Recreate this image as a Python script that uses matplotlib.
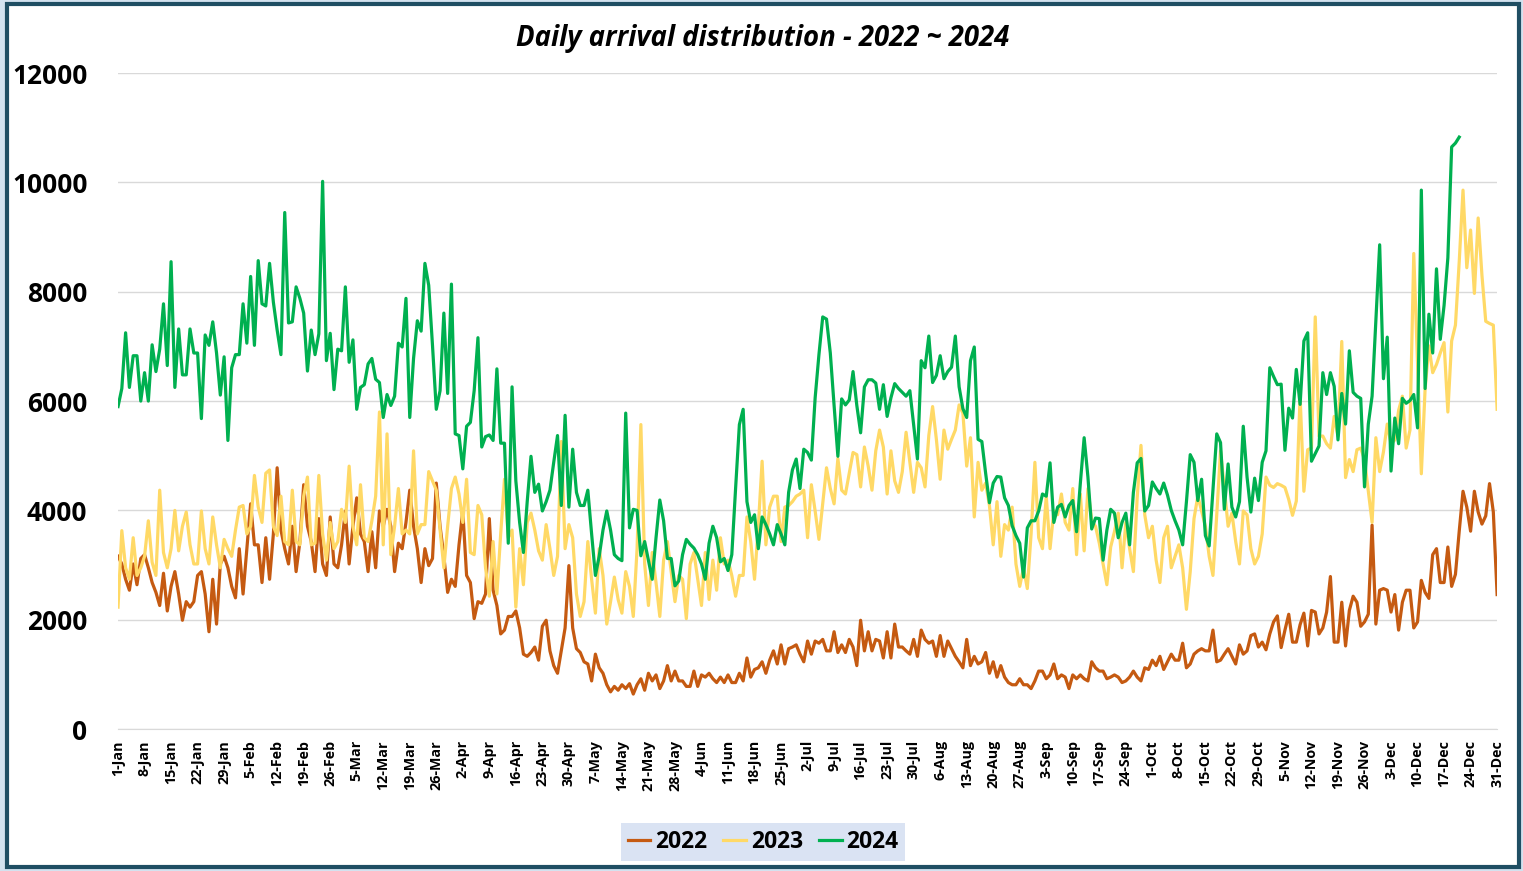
import numpy as np
import pandas as pd
import matplotlib
matplotlib.use('Agg')
import matplotlib.pyplot as plt
from matplotlib.patches import Rectangle

plt.rcParams['font.family'] = ['Open Sans', 'DejaVu Sans']

# daily arrivals (index 0 = 1-Jan)
arr_2022 = [
    3160, 3020, 2740, 2540, 3020, 2640, 3120, 3190, 2950, 2680,
    2500, 2260, 2850, 2160, 2610, 2880, 2470, 1990, 2330, 2230,
    2330, 2810, 2880, 2470, 1780, 2740, 1920, 3020, 3160, 2950,
    2610, 2400, 3300, 2470, 3300, 4120, 3370, 3370, 2680, 3500,
    2740, 3570, 4780, 3640, 3300, 3020, 3710, 2880, 3430, 4470,
    3710, 3430, 2880, 3850, 3020, 2810, 3880, 3020, 2950, 3370,
    3990, 3020,
    3710, 4230, 3570, 3430, 2880, 3610, 2950, 3990, 3710, 4020,
    3710, 2880, 3400, 3300, 3780, 4370, 3710, 3300, 2680, 3300,
    2990, 3120, 4500, 3710, 3160, 2500, 2740, 2610, 3370, 3990,
    2810, 2680, 2020, 2330, 2300, 2470, 3850, 2540, 2260, 1740,
    1810, 2060, 2060, 2160, 1850, 1370, 1330, 1400, 1500, 1260,
    1880, 1990, 1430, 1160, 1020, 1430, 1850, 2990,
    1850, 1470, 1400, 1230, 1190, 880, 1370, 1120, 1020, 810,
    680, 780, 710, 810, 740, 830, 640, 810, 920, 710,
    1020, 880, 990, 740, 880, 1160, 880, 1060, 880, 880,
    780, 780, 1060, 780, 990, 950, 1020, 920, 850, 950,
    850, 990, 850, 850, 1020, 880, 1300, 950, 1090, 1120,
    1230, 1020, 1260, 1430, 1190, 1540, 1190, 1470, 1500, 1540,
    1370, 1230, 1610, 1370, 1610, 1570, 1640, 1430, 1430, 1780,
    1400, 1540, 1400, 1640, 1500, 1160, 1990, 1430, 1780, 1430,
    1640, 1610, 1300, 1780, 1300, 1920, 1500, 1500, 1430, 1370,
    1640, 1330, 1810, 1640, 1570, 1610, 1330, 1710, 1330, 1610,
    1470, 1330, 1230, 1120, 1640, 1160, 1330, 1190, 1230, 1400,
    1020, 1230, 950, 1160, 950, 850, 810, 810, 920, 810,
    810,
    740, 880, 1060, 1060, 920, 990, 1190, 920, 990, 950,
    740, 990, 920, 990, 920, 880, 1230, 1120, 1060, 1060,
    920, 950, 990, 950, 850, 880, 950, 1060, 950, 880,
    1120, 1090, 1260, 1160, 1330, 1090, 1230, 1370, 1260, 1260,
    1570, 1120, 1190, 1370, 1430, 1470, 1430, 1430, 1810, 1230,
    1260, 1370, 1470, 1330, 1190, 1540, 1370, 1430, 1710, 1740,
    1500,
    1590, 1450, 1740, 1960, 2070, 1490, 1810, 2100, 1590, 1590,
    1910, 2120, 1520, 2170, 2140, 1740, 1850, 2140, 2790, 1590,
    1590, 2320, 1520, 2170, 2430, 2320, 1880, 1960, 2100, 3730,
    1920, 2540, 2570, 2540, 2140, 2460, 1810, 2320, 2540, 2540,
    1850, 1960, 2720, 2500, 2390, 3190, 3300, 2680, 2680, 3330,
    2610, 2830, 3620, 4350, 4060, 3620, 4350, 3970, 3750, 3900,
    4490, 3970, 2460,
]

arr_2023 = [
    2230, 3630, 2950, 2740, 3500, 2810, 2950, 3160, 3810, 3050,
    2810, 4370, 3230, 2950, 3300, 4000, 3260, 3710, 3970, 3370,
    3020, 3020, 3990, 3300, 3020, 3880, 3370, 2950, 3470, 3300,
    3160, 3640, 4060, 4090, 3570, 3710, 4640, 4060, 3780, 4680,
    4740, 3710, 3540, 4260, 3430, 3370, 4370, 3430, 3370, 4260,
    4610, 3370, 3400, 4640, 3570, 3090, 3780, 3300, 3430, 4020,
    3780, 4810,
    3710, 3370, 4470, 3500, 3430, 3810, 4260, 5800, 3370, 5400,
    3190, 3710, 4400, 3570, 3640, 3570, 5090, 3570, 3740, 3740,
    4710, 4540, 4370, 3640, 2950, 3710, 4400, 4610, 4300, 3780,
    4570, 3230, 3190, 4090, 3920, 2950, 2430, 3430, 2470, 3570,
    4570, 3500, 3640, 2230, 3300, 2640, 3780, 3950, 3640, 3260,
    3090, 3740, 3300, 2810, 3160, 5260, 3300, 3740,
    3500, 2470, 2060, 2330, 3430, 2740, 2120, 3300, 2810, 1920,
    2330, 2780, 2370, 2120, 2880, 2610, 2060, 3300, 5570, 3020,
    2260, 3230, 2680, 2060, 3090, 3430, 2880, 2330, 2810, 2740,
    2020, 3020, 3230, 2740, 2260, 3230, 2370, 3090, 2540, 3500,
    3020, 3090, 2810, 2430, 2810, 2810, 3880, 3430, 2740, 3710,
    4900, 3370, 4060, 4260, 4260, 3430, 4060, 4090, 4160, 4260,
    4300, 4370, 3500,
    4470, 3990, 3470, 4120, 4780, 4400, 4120,
    4950, 4370, 4300, 4680, 5060, 5020, 4430, 5160, 4810, 4370,
    5090, 5470, 5160, 4300, 5090, 4540, 4330, 4710, 5430, 4880,
    4330, 4880, 4780, 4430, 5370, 5900, 5300, 4570, 5470, 5120,
    5300, 5470, 5930, 5780, 4810, 5330, 3880, 4880, 4370, 4500,
    4090, 3370, 4160, 3160, 3740, 3640, 4060, 3020, 2610, 2950,
    2570, 3570,
    4880, 3500, 3300, 4260, 3300, 3990, 3920, 4300, 3780, 3640,
    4400, 3190, 4300, 3260, 4400, 3810, 3710, 3400, 3020, 2640,
    3330, 3610, 3950, 2950, 3780, 3300, 2880, 4230, 5190, 3920,
    3500, 3710, 3090, 2680, 3500, 3710, 2950, 3160, 3370, 2950,
    2190, 2880, 3850, 4260, 3990, 3710, 3160, 2810, 3920, 5090,
    4400, 3710, 3950, 3430, 3020, 3990, 3920, 3300, 3020, 3160,
    3570, 4610,
    4460, 4420, 4490, 4460, 4420, 4200, 3910, 4170, 6090, 4350,
    5110, 5140, 7540, 5360, 5360, 5220, 5140, 5720, 5360, 7090,
    4600, 4930, 4710, 5110, 5140, 4930, 4350, 3780, 5330, 4710,
    5070, 5580, 5220, 5290, 5830, 6090, 5140, 5470, 8700, 6670,
    4670, 6230, 7010, 6520, 6670, 6880, 7070, 5800, 7100, 7390,
    8550, 9860, 8440, 9130, 7970, 9350, 8300, 7460, 7420, 7390,
    5850,
]

# 2024 stops around 21-Dec
arr_2024 = [
    5900, 6230, 7250, 6250, 6830, 6830, 6000, 6520, 6000, 7030,
    6540, 6950, 7780, 6650, 8550, 6250, 7320, 6480, 6480, 7320,
    6880, 6880, 5680, 7210, 7020, 7450, 6880, 6110, 6810, 5280,
    6610, 6850, 6850, 7780, 7060, 8280, 7020, 8570, 7780, 7740,
    8520, 7810, 7300, 6850, 9450, 7430, 7450, 8090, 7880, 7610,
    6550, 7300, 6850, 7230, 10020, 6740, 7240, 6210, 6950,
    6920, 8090, 6710, 7120, 5850, 6250, 6300, 6680, 6780, 6400,
    6340, 5700, 6120, 5920, 6090, 7060, 6990, 7880, 5700, 6780,
    7470, 7280, 8520, 8120, 7020, 5850, 6190, 7610, 6140, 8140,
    5400, 5370, 4760, 5540, 5610, 6190, 7160, 5160, 5350, 5380,
    5280, 6590, 5230, 5230, 3400, 6260, 4540, 3780, 3230, 4160,
    4990, 4330, 4480, 3990, 4160, 4370, 4880, 5370, 4090, 5740,
    4060, 5120, 4330, 4090, 4090, 4370, 3570, 2810, 3160, 3640,
    3990, 3640, 3190, 3120, 3080, 5780, 3680, 4020, 4000, 3170,
    3430, 3090, 2740, 3500, 4190, 3810, 3120, 3120, 2620, 2710,
    3190, 3470, 3380, 3310, 3190, 3020, 2740, 3400, 3710, 3500,
    3060, 3120, 2900, 3190, 4400, 5570, 5850, 4160, 3780, 3920,
    3300, 3880, 3740, 3570, 3370, 3740, 3570, 3370, 4330, 4740,
    4940,
    4400, 5120, 5060, 4920, 6060, 6850, 7540, 7500, 6880, 5920,
    4990, 6040, 5930, 6020, 6540, 5920, 5420, 6260, 6390, 6390,
    6330, 5850, 6300, 5720, 6060, 6320, 6230, 6160, 6090, 6190,
    5570, 4940, 6740, 6610, 7190, 6340, 6470, 6830, 6410, 6540,
    6620, 7190, 6260, 5860, 5700, 6740, 6990, 5300, 5260, 4680,
    4140, 4500, 4620, 4610, 4230, 4090, 3720, 3540, 3400, 2780,
    3680,
    3810, 3810, 3990, 4300, 4260, 4870, 3780, 4060, 4110, 3880,
    4090, 4180, 3610, 4500, 5330, 4610, 3660, 3860, 3850, 3090,
    3640, 4020, 3950, 3500, 3780, 3950, 3370, 4330, 4870, 4950,
    3990, 4090, 4520, 4400, 4300, 4500, 4280, 4000, 3810, 3640,
    3370, 4160, 5020, 4880, 4180, 4570, 3540, 3350, 4370, 5400,
    5240, 4020, 4850, 4060, 3880, 4160, 5540, 4610, 3970, 4590,
    4180, 4880, 5090, 6610,
    6450, 6300, 6310, 5100, 5870, 5690, 6580, 5940, 7100, 7250,
    4900, 5040, 5180, 6520, 6120, 6520, 6270, 5290, 6140, 5580,
    6920, 6160, 6090, 6050, 4430, 5580, 6090, 7460, 8860, 6410,
    7170, 4720, 5690, 5220, 6050, 5960, 6010, 6120, 5510, 9860,
    6230, 7590, 6880, 8420, 7130, 7750, 8620, 10650, 10720, 10830,
]

days = pd.date_range('2022-01-01', periods=365, freq='D')
day_idx = np.arange(len(days))
tick_idx = day_idx[::7]
tick_labels = [f'{d.day}-{d.strftime("%b")}' for d in days[::7]]

y2024 = np.full(len(days), np.nan)
y2024[:len(arr_2024)] = arr_2024

fig = plt.figure(figsize=(15.23, 8.71), dpi=100)
fig.patch.set_facecolor('#d3e2ef')
fig.add_artist(Rectangle((0.0043, 0.0045), 0.9931, 0.9905, transform=fig.transFigure,
                         facecolor='white', edgecolor='#1f4e63', linewidth=3, zorder=0))

ax = fig.add_axes([0.0775, 0.163, 0.9055, 0.753])
ax.set_facecolor('none')
ax.plot(day_idx, arr_2022, color='#C55A11', lw=2.3, label='2022')
ax.plot(day_idx, arr_2023, color='#FFD966', lw=2.3, label='2023')
ax.plot(day_idx, y2024, color='#00B050', lw=2.3, label='2024')

ax.set_xlim(0, 364)
ax.set_ylim(0, 12000)
ax.set_yticks(range(0, 12001, 2000))
ax.yaxis.grid(True, color='#d9d9d9', lw=1)
ax.set_axisbelow(True)
for s in ['top', 'right', 'left']:
    ax.spines[s].set_visible(False)
ax.spines['bottom'].set_color('#d9d9d9')
ax.tick_params(axis='y', length=0, pad=22, labelsize=19)
for t in ax.get_yticklabels():
    t.set_fontweight('bold')

ax.set_xticks(tick_idx)
ax.set_xticklabels(tick_labels, rotation=90, fontsize=10.3, fontweight='bold')
ax.tick_params(axis='x', length=0, pad=8)

fig.text(0.501, 0.956, 'Daily arrival distribution - 2022 ~ 2024', ha='center', va='center',
         fontsize=19.8, fontstyle='italic', fontweight='bold')

leg = fig.legend(loc='center', bbox_to_anchor=(0.501, 0.033), ncol=3, frameon=True,
                 fancybox=False, facecolor='#dae3f3', edgecolor='none', framealpha=1,
                 prop={'size': 16.5, 'weight': 'bold'}, handlelength=1.0, handletextpad=0.2,
                 columnspacing=0.7, borderpad=0.3)

fig.savefig('out.png', dpi=100)
